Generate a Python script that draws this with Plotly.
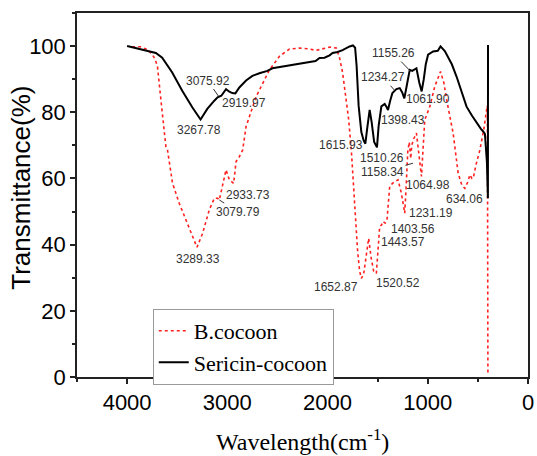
import plotly.graph_objects as go

# ---- data ----
seri_wn = [4000, 3900, 3800, 3713, 3650, 3550, 3450, 3350, 3267, 3200, 3130, 3097, 3060, 3013, 2980,
           2950, 2920, 2880, 2813, 2750, 2680, 2600, 2550, 2450, 2350, 2250, 2180, 2120, 2080, 2030,
           1980, 1950, 1900, 1850, 1780, 1747, 1725, 1710, 1690, 1663, 1640, 1623, 1605, 1580, 1560,
           1535, 1507, 1490, 1463, 1430, 1410, 1397, 1375, 1353, 1313, 1280, 1255, 1234, 1210, 1180,
           1155, 1113, 1085, 1061, 1040, 1020, 997, 947, 900, 873, 830, 813, 760, 713, 660, 613,
           560, 513, 470, 447, 430, 410, 400, 399]
seri_t = [100.0, 99.2, 98.6, 97.9, 96.5, 92.0, 86.5, 81.5, 77.8, 81.0, 83.5, 84.5, 85.0, 87.0, 86.2,
          85.8, 85.7, 87.5, 89.6, 91.0, 91.8, 92.5, 93.3, 93.8, 94.3, 94.8, 95.3, 95.5, 96.4, 96.5,
          97.2, 97.9, 98.2, 98.8, 99.9, 100.2, 99.5, 94.0, 82.0, 74.0, 71.5, 70.5, 75.0, 80.7, 77.0,
          71.0, 69.4, 76.0, 81.8, 82.5, 81.5, 80.7, 83.5, 85.8, 87.0, 87.3, 86.0, 84.2, 88.0, 92.8,
          92.5, 93.3, 89.0, 86.3, 90.0, 94.5, 97.4, 98.4, 98.6, 99.9, 98.5, 97.4, 94.5, 90.8, 86.0, 81.7,
          79.0, 76.7, 75.0, 74.2, 73.5, 65.0, 54.0, 100.3]

bc_wn = [3950, 3870, 3800, 3747, 3720, 3697, 3663, 3613, 3597, 3547, 3480, 3413, 3347, 3303, 3247,
         3180, 3130, 3097, 3080, 3047, 3013, 2980, 2937, 2913, 2880, 2847, 2813, 2713, 2580, 2480,
         2380, 2280, 2200, 2113, 2050, 1980, 1913, 1880, 1850, 1813, 1790, 1763, 1730, 1700, 1680,
         1663, 1640, 1615, 1590, 1565, 1540, 1513, 1495, 1480, 1460, 1447, 1425, 1407, 1395, 1380,
         1353, 1320, 1297, 1263, 1230, 1215, 1200, 1185, 1170, 1160, 1140, 1113, 1090, 1063, 1045,
         1030, 980, 930, 873, 840, 813, 780, 747, 697, 660, 630, 600, 580, 560, 547, 520, 480,
         440, 413, 405, 400]
bc_t = [99.8, 99.8, 99.0, 97.4, 96.0, 93.8, 83.8, 69.6, 68.6, 58.6, 52.5, 47.5, 42.4, 39.2, 43.4,
        50.5, 54.0, 54.0, 53.5, 58.5, 62.6, 59.6, 58.5, 65.1, 66.6, 68.6, 75.7, 84.7, 92.8, 96.9,
        99.1, 99.4, 99.2, 98.7, 99.2, 99.7, 99.4, 96.4, 92.0, 84.0, 78.0, 68.6, 52.0, 38.0, 32.0,
        29.8, 31.0, 37.0, 41.9, 36.0, 32.0, 31.3, 38.0, 45.4, 46.0, 47.0, 46.5, 47.5, 52.0, 57.5,
        58.5, 59.0, 59.6, 55.5, 49.5, 58.0, 68.0, 71.0, 66.0, 70.0, 72.0, 73.7, 68.0, 60.6, 70.0,
        77.7, 81.7, 87.8, 92.3, 89.0, 84.0, 79.0, 73.7, 61.6, 58.0, 57.0, 59.0, 61.1, 60.0, 60.0, 64.0, 68.6,
        75.0, 80.7, 82.0, 1.0]

# peak labels: text, text position, optional leader target
label_text = ["3267.78", "3075.92", "2919.97", "3289.33", "3079.79", "2933.73", "1615.93", "1510.26",
              "1158.34", "1234.27", "1155.26", "1398.43", "1061.90", "1064.98", "634.06", "1231.19",
              "1403.56", "1443.57", "1652.87", "1520.52"]
label_pos = [(3280, 74.5), (3197, 89.6), (2830, 82.7), (3297, 35.8), (2897, 50.0), (2797, 55.0),
             (1863, 70.2), (1453, 66.1), (1453, 62.1), (1447, 90.6), (1347, 97.9), (1247, 77.7),
             (997, 83.9), (997, 58.0), (630, 53.7), (963, 49.5), (1147, 44.6), (1247, 40.9),
             (1913, 27.3), (1297, 28.3)]
label_leader = [None, (3087, 84.8), None, None, (3080, 53.5), None, None, None,
                (1147, 64.6), (1330, 86.6), (1170, 92.3), None, None, None, None, None,
                None, None, None, None]

x_ticks = [4000, 3000, 2000, 1000, 0]
y_ticks = [0, 20, 40, 60, 80, 100]

fig = go.Figure()
fig.add_trace(go.Scatter(x=bc_wn, y=bc_t, mode="lines", name="B.cocoon",
                         line=dict(color="#ff2020", width=1.6, dash="dot")))
fig.add_trace(go.Scatter(x=seri_wn, y=seri_t, mode="lines", name="Sericin-cocoon",
                         line=dict(color="#000000", width=2)))

afont = dict(family="Liberation Sans, Arial, sans-serif", size=12, color="#333333")
for txt, pos, lead in zip(label_text, label_pos, label_leader):
    if lead is None:
        fig.add_annotation(x=pos[0], y=pos[1], text=txt, showarrow=False, font=afont)
    else:
        fig.add_annotation(x=lead[0], y=lead[1], ax=pos[0], ay=pos[1], axref="x", ayref="y",
                           text=txt, showarrow=True, arrowhead=0, arrowwidth=1,
                           arrowcolor="#333333", standoff=0, font=afont)

# axis titles
fig.add_annotation(xref="paper", yref="paper", x=0.5, y=0, yanchor="top", yshift=-46,
                   text="Wavelength(cm<sup>-1</sup>)", showarrow=False,
                   font=dict(family="Liberation Serif, Times New Roman, serif", size=24, color="#000"))
fig.add_annotation(xref="paper", yref="paper", x=0, y=0.52, xanchor="center", xshift=-56,
                   text="Transmittance(%)", textangle=-90, showarrow=False,
                   font=dict(family="Liberation Sans, Arial, sans-serif", size=26, color="#000"))

axis_common = dict(showgrid=False, zeroline=False, showline=True, linecolor="#222",
                   linewidth=1.5, mirror=True, ticks="outside", ticklen=5, tickwidth=1.5,
                   tickcolor="#222", automargin=False,
                   tickfont=dict(family="Liberation Sans, Arial, sans-serif", size=22, color="#000"))

fig.update_xaxes(range=[4500, 0], tickvals=x_ticks, ticktext=[str(v) for v in x_ticks],
                 minor=dict(ticks="outside", ticklen=3, tickcolor="#222", dtick=500, tick0=0),
                 **axis_common)
fig.update_yaxes(range=[0, 110], tickvals=y_ticks, ticktext=[str(v) for v in y_ticks],
                 minor=dict(ticks="outside", ticklen=3, tickcolor="#222", dtick=10, tick0=0),
                 **axis_common)

fig.update_layout(
    width=537, height=456,
    margin=dict(l=77, r=9, t=13, b=79, autoexpand=False),
    paper_bgcolor="white", plot_bgcolor="white",
    showlegend=True,
    legend=dict(x=0.168, y=0.187, xanchor="left", yanchor="top",
                bgcolor="white", bordercolor="#999", borderwidth=1,
                font=dict(family="Liberation Serif, Times New Roman, serif", size=22, color="#000"),
                tracegroupgap=0, itemwidth=30),
)

fig.write_html("out.html")
